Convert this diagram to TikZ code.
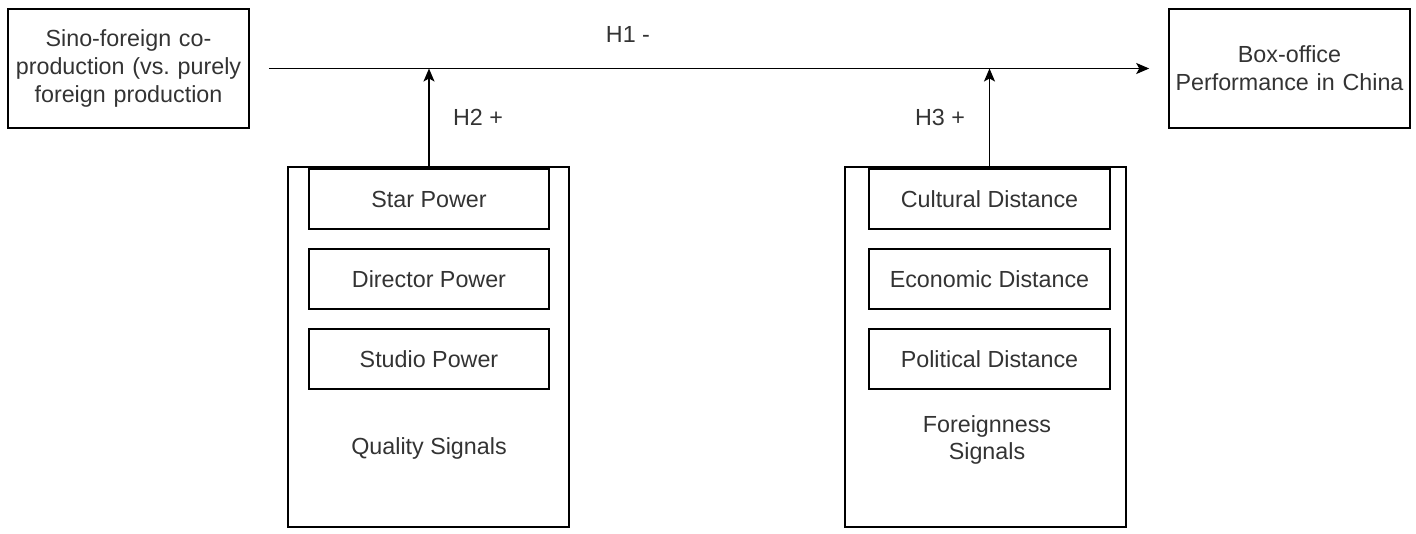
\documentclass[tikz,border=0pt]{standalone}
\usepackage{fontspec}
\setmainfont{Liberation Sans}
\frenchspacing
\usetikzlibrary{arrows.meta}
\definecolor{txt}{HTML}{333333}
\begin{document}
\begin{tikzpicture}[x=1pt,y=-1pt,
  every node/.style={font=\fontsize{23.3pt}{27.8pt}\selectfont, text=txt},
  box/.style={draw, line width=1.6pt, inner sep=0pt},
  lbl/.style={inner sep=0pt},
  arr/.style={line width=1.6pt, -{Stealth[length=13pt,width=11pt,inset=3pt]}}]
\useasboundingbox (0,0) rectangle (1416,533);
% top boxes
\node[box, minimum width=241pt, minimum height=119pt, align=center, text width=238pt] (src) at (128.5,68.5)
  {Sino-foreign co-\\production (vs. purely\\foreign production};
\node[box, minimum width=241pt, minimum height=119pt, align=center, text width=238pt] (dst) at (1289.5,68.5)
  {Box-office\\Performance in China};
% main arrow
\draw[arr, shorten <=19pt, shorten >=19pt] (src.east) -- (dst.west);
\node[lbl] (h1) at (628,34) {H1 -};
% quality signals
\node[box, minimum width=281pt, minimum height=360pt] (qual) at (428.5,347) {};
\node[box, minimum width=240pt, minimum height=60pt] (star) at (429,199) {Star Power};
\node[box, minimum width=240pt, minimum height=60pt] (dir) at (429,279) {Director Power};
\node[box, minimum width=240pt, minimum height=60pt] (stu) at (429,359) {Studio Power};
\node[lbl] (qs) at (429,448) {Quality Signals};
\coordinate (m1) at (star.north |- src.east);
\draw[arr] (star.north) -- (m1);
\node[lbl] (h2) at (478,117) {H2 +};
% foreignness signals
\node[box, minimum width=281pt, minimum height=360pt] (for) at (985.5,347) {};
\node[box, minimum width=241pt, minimum height=60pt] (cul) at (989.5,199) {Cultural Distance};
\node[box, minimum width=241pt, minimum height=60pt] (eco) at (989.5,279) {Economic Distance};
\node[box, minimum width=241pt, minimum height=60pt] (pol) at (989.5,359) {Political Distance};
\node[lbl, align=center] (fs) at (987,440) {Foreignness\\Signals};
\coordinate (m2) at (cul.north |- src.east);
\draw[arr] (cul.north) -- (m2);
\node[lbl] (h3) at (940,117) {H3 +};
\end{tikzpicture}
\end{document}
